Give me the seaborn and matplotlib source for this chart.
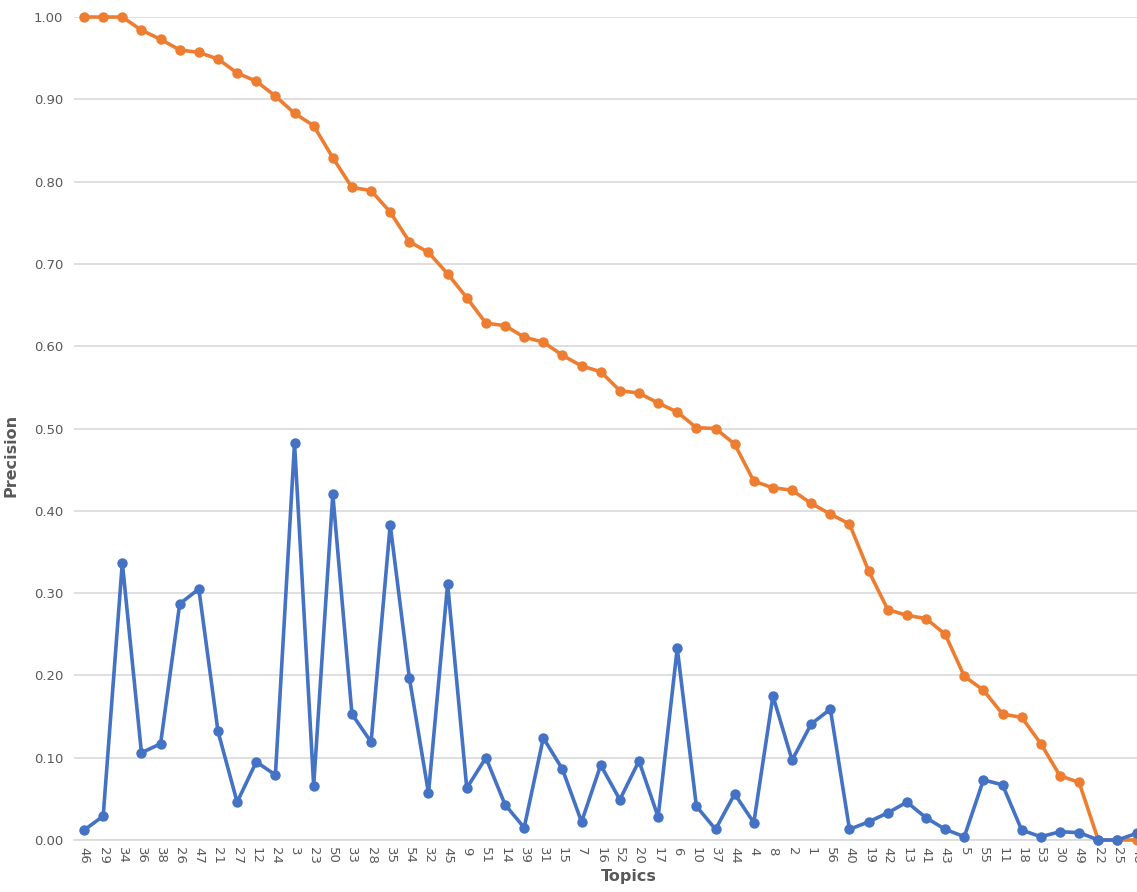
import numpy as np
import pandas as pd
import matplotlib
matplotlib.use("Agg")
import matplotlib.pyplot as plt
import seaborn as sns

# ---------- Data ----------
topics = ["46", "29", "34", "36", "38", "26", "47", "21", "27", "12",
          "24", "3", "23", "50", "33", "28", "35", "54", "32", "45",
          "9", "51", "14", "39", "31", "15", "7", "16", "52", "20",
          "17", "6", "10", "37", "44", "4", "8", "2", "1", "56",
          "40", "19", "42", "13", "41", "43", "5", "55", "11", "18",
          "53", "30", "49", "22", "25", "48"]

precision_a = [1.00, 1.00, 1.00, 0.984, 0.973, 0.960, 0.957, 0.949, 0.932, 0.922,
               0.904, 0.883, 0.868, 0.829, 0.793, 0.789, 0.763, 0.727, 0.714, 0.688,
               0.659, 0.628, 0.625, 0.611, 0.605, 0.589, 0.576, 0.569, 0.546, 0.543,
               0.531, 0.520, 0.501, 0.500, 0.481, 0.436, 0.428, 0.425, 0.409, 0.396,
               0.384, 0.327, 0.280, 0.273, 0.269, 0.250, 0.199, 0.182, 0.153, 0.149,
               0.117, 0.078, 0.070, 0.0, 0.0, 0.0]

precision_b = [0.012, 0.029, 0.337, 0.106, 0.117, 0.287, 0.305, 0.132, 0.046, 0.095,
               0.079, 0.482, 0.066, 0.420, 0.153, 0.119, 0.383, 0.197, 0.057, 0.311,
               0.063, 0.100, 0.043, 0.015, 0.124, 0.086, 0.022, 0.091, 0.049, 0.096,
               0.028, 0.233, 0.041, 0.013, 0.056, 0.021, 0.175, 0.097, 0.141, 0.159,
               0.013, 0.022, 0.033, 0.046, 0.027, 0.013, 0.004, 0.073, 0.067, 0.012,
               0.004, 0.010, 0.009, 0.0, 0.0, 0.008]

pos = np.arange(len(topics))
df = pd.DataFrame({
    "pos": np.concatenate([pos, pos]),
    "precision": precision_a + precision_b,
    "series": ["a"] * len(topics) + ["b"] * len(topics),
})

# ---------- Plot ----------
sns.set_style("white")
plt.rcParams["font.family"] = ["DejaVu Sans"]

fig = plt.figure(figsize=(11.37, 8.92), dpi=100)
# axes runs a bit past the right edge, like the cropped original
ax = fig.add_axes([0.0655, 0.0583, 0.9425, 0.9226])

sns.lineplot(
    data=df, x="pos", y="precision", hue="series",
    hue_order=["a", "b"],
    palette={"a": "#ED7D31", "b": "#4472C4"},
    marker="o", markersize=7.5, markeredgewidth=0,
    linewidth=2.6, legend=False, ax=ax, clip_on=False, zorder=3,
)

ax.set_xlim(-0.5, len(topics) - 0.5)
ax.set_ylim(0, 1.0)
ax.set_yticks(np.arange(0, 1.01, 0.1))
ax.set_yticklabels([f"{v:.2f}" for v in np.arange(0, 1.01, 0.1)])
ax.set_xticks(pos)
ax.set_xticklabels(topics, rotation=270)

ax.grid(axis="y", color="#D9D9D9", linewidth=1.2)
ax.set_axisbelow(True)
for s in ["top", "right", "left"]:
    ax.spines[s].set_visible(False)
ax.spines["bottom"].set_color("#D9D9D9")
ax.spines["bottom"].set_linewidth(1.2)
ax.tick_params(axis="both", length=0, labelsize=9.5, colors="#595959", pad=8)
ax.tick_params(axis="x", pad=5)

ax.set_xlabel("Topics", fontsize=11.5, fontweight="bold", color="#595959")
ax.set_ylabel("Precision", fontsize=11.5, fontweight="bold", color="#595959")
ax.xaxis.set_label_coords(0.517, -0.035)
ax.yaxis.set_label_coords(-0.052, 0.467)

fig.savefig("out.png", dpi=100)
